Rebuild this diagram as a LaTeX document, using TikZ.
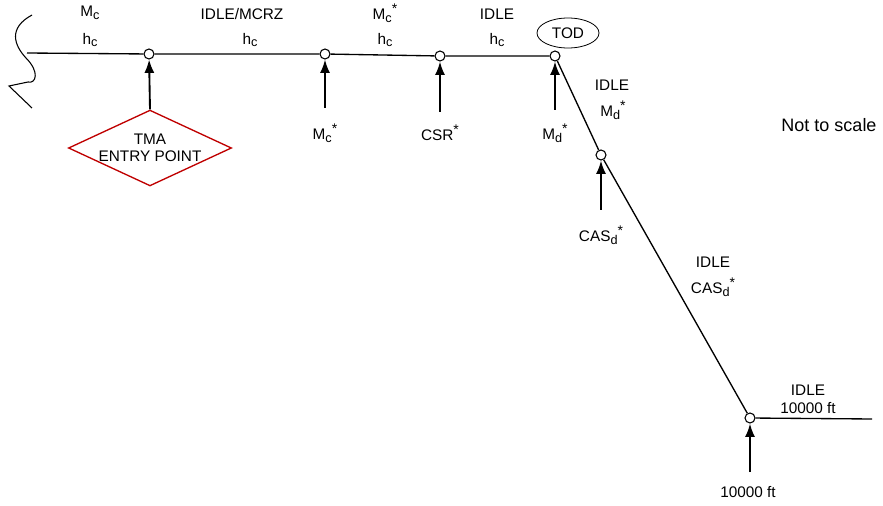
\documentclass[tikz,border=0pt]{standalone}
\usepackage{fontspec}
\setmainfont{Liberation Sans}
\usetikzlibrary{arrows.meta,shapes.geometric}

\newcommand\lowr[1]{\raisebox{-0.35ex}{\fontsize{9.5}{10}\selectfont #1}}
\newcommand\upr[1]{\raisebox{0.7ex}{\fontsize{10.5}{10}\selectfont #1}}

\tikzset{
  pt/.style={circle,draw,fill=white,inner sep=0pt,minimum size=7.5pt,line width=0.8pt},
  up/.style={line width=1.4pt,-{Latex[length=10pt,width=7.5pt]}},
  lbl/.style={inner sep=1pt,font=\fontsize{11.5}{13}\selectfont},
  path/.style={line width=1pt}
}

\begin{document}
\begin{tikzpicture}[x=0.75pt,y=-0.75pt]
  \useasboundingbox (0,0) rectangle (883,506);
  % break mark at the left end
  \draw[line width=0.8pt] (32,15) .. controls (8,28) and (14,45) .. (26,58)
    .. controls (40,72) and (36,84) .. (28,82) -- (9,86) -- (32,108);
  \coordinate (brk) at (27,53);
  % points on the profile
  \node[pt] (entry) at (149,54) {};
  \node[pt] (mc) at (325,54) {};
  \node[pt] (csr) at (440,56) {};
  \node[pt] (tod) at (555,56) {};
  \node[pt] (cas) at (601,155) {};
  \node[pt] (alt) at (750,418) {};
  \coordinate (end) at (872,419);
  \draw[path] (brk) -- (entry) -- (mc) -- (csr) -- (tod) -- (cas) -- (alt) -- (end);
  % segment labels
  \node[lbl] at (90,13) {M\lowr{c}};
  \node[lbl] at (90,40) {h\lowr{c}};
  \node[lbl] at (242,14) {IDLE/MCRZ};
  \node[lbl] at (250,40) {h\lowr{c}};
  \node[lbl] at (385,13) {M\lowr{c}\upr{*}};
  \node[lbl] at (385,40) {h\lowr{c}};
  \node[lbl] at (497,14) {IDLE};
  \node[lbl] at (497,40) {h\lowr{c}};
  \node[lbl] at (612,85) {IDLE};
  \node[lbl] at (613,110) {M\lowr{d}\upr{*}};
  \node[lbl] at (713,262) {IDLE};
  \node[lbl] at (713,287) {CAS\lowr{d}\upr{*}};
  \node[lbl] at (808,390) {IDLE};
  \node[lbl] at (808,408) {10000 ft};
  \node[lbl,font=\fontsize{13.5}{15}\selectfont] at (829,125) {Not to scale};
  \node[lbl,draw,ellipse,minimum width=46.5pt,minimum height=22.5pt,inner sep=0pt,line width=0.6pt] (todlbl) at (568,33) {TOD};
  % entry point
  \node[lbl,draw=red!75!black,line width=1pt,diamond,aspect=2.15,inner sep=0pt,
    align=center,minimum width=158*0.75pt,minimum height=74*0.75pt] (tma) at (150,148)
    {TMA\\ENTRY POINT};
  % triggers
  \node[lbl] (mclbl) at (325,133) {M\lowr{c}\upr{*}};
  \node[lbl] (csrlbl) at (440,133) {CSR\upr{*}};
  \node[lbl] (mdlbl) at (555,133) {M\lowr{d}\upr{*}};
  \node[lbl] (caslbl) at (601,235) {CAS\lowr{d}\upr{*}};
  \node[lbl] (altlbl) at (748,492) {10000 ft};
  \coordinate (mcb) at (325,108);
  \coordinate (csrb) at (440,112);
  \coordinate (mdb) at (555,110);
  \coordinate (casb) at (601,210);
  \coordinate (altb) at (750,472);
  \draw[up] (tma.north) -- (entry);
  \draw[up] (mcb) -- (mc);
  \draw[up] (csrb) -- (csr);
  \draw[up] (mdb) -- (tod);
  \draw[up] (casb) -- (cas);
  \draw[up] (altb) -- (alt);
\end{tikzpicture}
\end{document}
